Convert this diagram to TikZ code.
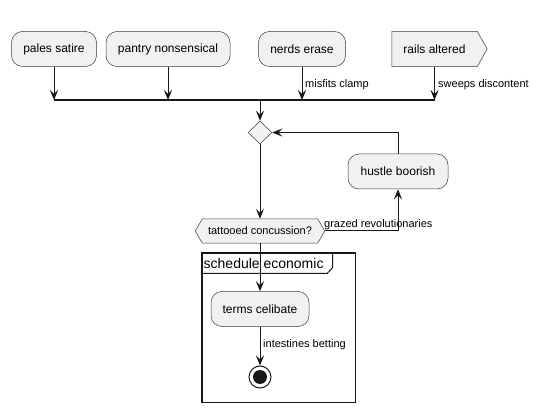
\documentclass[tikz,border=0pt]{standalone}
\usepackage{fontspec}
\setmainfont{Liberation Sans}
\usetikzlibrary{arrows.meta,shapes.geometric,backgrounds}
\definecolor{boxfill}{HTML}{F1F1F1}
\definecolor{ink}{HTML}{181818}
\tikzset{
  actbox/.style={draw=ink!85, line width=0.5pt, fill=boxfill, rounded corners=11pt,
    minimum height=35pt, inner sep=0pt, font=\fontsize{12}{14}\selectfont},
  plainbox/.style={inner sep=0pt, minimum height=35pt, font=\fontsize{12}{14}\selectfont},
  flow/.style={draw=ink, line width=1pt, -{Stealth[length=10pt,width=8pt,inset=4pt]}},
  lbl/.style={font=\fontsize{11}{13}\selectfont, inner sep=0pt},
  shapeline/.style={draw=ink!85, line width=0.5pt, fill=boxfill},
}
\begin{document}
\begin{tikzpicture}[x=1pt,y=-1pt]
\useasboundingbox (0,0) rectangle (542,412);
% top activities
\node[actbox, minimum width=85pt] (pales) at (54,49) {pales satire};
\node[actbox, minimum width=124pt] (pantry) at (168,49) {pantry nonsensical};
\node[actbox, minimum width=87pt] (nerds) at (302,49) {nerds erase};
\node[plainbox, minimum width=85pt] (rails) at (434.5,49) {rails altered};
\begin{scope}[on background layer]
\path[shapeline] (rails.north west) -- (rails.north east) -- ([xshift=10pt]rails.east)
  -- (rails.south east) -- (rails.south west) -- cycle;
\end{scope}
% bar
\coordinate (barL) at (54,100);
\coordinate (barR) at (434.5,100);
\coordinate (barM) at (260,100);
\draw[ink, line width=2pt] (barL) -- (barR);
\draw[flow] (pales.south) -- (pales.south |- barL);
\draw[flow] (pantry.south) -- (pantry.south |- barL);
\draw[flow] (nerds.south) -- (nerds.south |- barL);
\draw[flow] (rails.south) -- (rails.south |- barL);
\node[lbl, anchor=west] (l1) at (305,85) {misfits clamp};
\node[lbl, anchor=west] (l2) at (438,85) {sweeps discontent};
% merge diamond
\node[diamond, shapeline, inner sep=0pt, minimum width=24pt, minimum height=23pt] (diam) at (260,132.5) {};
\draw[flow] (barM) -- (diam.north);
% decision
\node[plainbox, minimum width=115pt, minimum height=24pt, font=\fontsize{11}{13}\selectfont] (dec) at (260,231) {tattooed concussion?};
\begin{scope}[on background layer]
\path[shapeline] (dec.north west) -- (dec.north east) -- ([xshift=7pt]dec.east)
  -- (dec.south east) -- (dec.south west) -- ([xshift=-7pt]dec.west) -- cycle;
\end{scope}
\coordinate (decR) at ([xshift=7pt]dec.east);
\draw[flow] (diam.south) -- (dec.north);
% loop
\node[actbox, minimum width=100pt] (hus) at (398,171.5) {hustle boorish};
\draw[flow] (decR) -| (hus.south);
\node[lbl, anchor=south west] (l3) at (324,229.5) {grazed revolutionaries};
\draw[flow] (hus.north) |- (diam.east);
% frame
\draw[ink, line width=1.5pt] (202,253) rectangle (355.7,402.3);
\draw[ink, line width=1pt] (202,273.3) -- (327.3,273.3) -- (332.7,267.5) -- (332.7,253);
\node[anchor=west, inner sep=0pt, font=\fontsize{14}{16}\selectfont] (ftitle) at (203.5,263.5) {schedule economic};
% inside
\node[actbox, minimum width=98pt] (terms) at (260,309) {terms celibate};
\draw[flow] (dec.south) -- (terms.north);
\node[circle, draw=ink, line width=1pt, fill=white, minimum size=22pt, inner sep=0pt] (endn) at (260,377) {};
\fill[ink] (endn.center) circle (7pt);
\draw[flow] (terms.south) -- (endn.north);
\node[lbl, anchor=west] (l4) at (263,345) {intestines betting};
\end{tikzpicture}
\end{document}
